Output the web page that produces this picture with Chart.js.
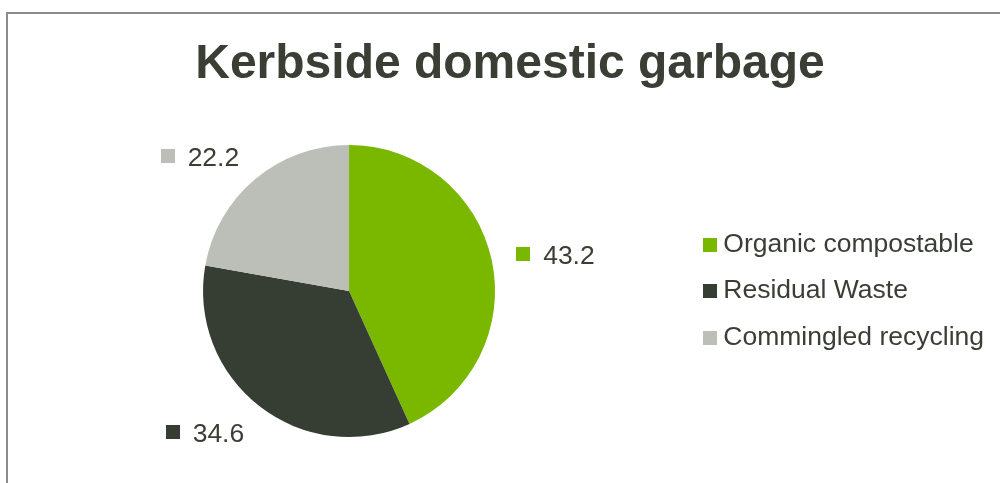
<!DOCTYPE html>
<html>
<head>
<meta charset="utf-8">
<script src="https://cdn.jsdelivr.net/npm/chart.js@4/dist/chart.umd.min.js"></script>
<style>
  html, body { margin: 0; padding: 0; background: #ffffff; overflow: hidden; }
  #wrap { position: relative; width: 1000px; height: 483px; }
  #frame {
    position: absolute; left: 6px; top: 12px; width: 1200px; height: 600px;
    border-top: 2px solid #8c8c8c; border-left: 2px solid #8c8c8c;
    pointer-events: none;
  }
  canvas { position: absolute; left: 0; top: 0; }
</style>
</head>
<body>
<div id="wrap">
  <canvas id="chart" width="1000" height="483"></canvas>
  <div id="frame"></div>
</div>
<script>
// Share of kerbside domestic garbage by stream (%)
const chartTitle = 'Kerbside domestic garbage';
const categories = ['Organic compostable', 'Residual Waste', 'Commingled recycling'];
const shares = [43.2, 34.6, 22.2];
const sliceColors = ['#7ab800', '#363d32', '#bbbfb8'];

const TEXT_COLOR = '#3a3f35';
const FONT_FAMILY = '"Liberation Sans", Arial, Helvetica, sans-serif';
const LABEL_SIZE = 26.5;
const SWATCH = 14;

// Small filled square used as the legend marker
function swatch(color) {
  const c = document.createElement('canvas');
  c.width = SWATCH;
  c.height = SWATCH;
  const g = c.getContext('2d');
  g.fillStyle = color;
  g.fillRect(0, 0, SWATCH, SWATCH);
  return c;
}
const swatches = sliceColors.map(swatch);

// Title drawn across the whole frame, above the plot
const titlePlugin = {
  id: 'frameTitle',
  afterDraw(chart) {
    const ctx = chart.ctx;
    ctx.save();
    ctx.font = 'bold 48px ' + FONT_FAMILY;
    ctx.fillStyle = TEXT_COLOR;
    ctx.textAlign = 'center';
    ctx.textBaseline = 'alphabetic';
    ctx.fillText(chartTitle, 510, 78);
    ctx.restore();
  }
};

// Value labels with a colour key square, placed outside each slice
const valueLabels = {
  id: 'valueLabels',
  afterDatasetsDraw(chart) {
    const ctx = chart.ctx;
    const meta = chart.getDatasetMeta(0);
    const values = chart.data.datasets[0].data;
    ctx.save();
    ctx.font = LABEL_SIZE + 'px ' + FONT_FAMILY;
    ctx.textBaseline = 'alphabetic';
    ctx.textAlign = 'left';
    meta.data.forEach((arc, i) => {
      const p = arc.getProps(['x', 'y', 'startAngle', 'endAngle', 'outerRadius'], true);
      const mid = (p.startAngle + p.endAngle) / 2;
      const cos = Math.cos(mid), sin = Math.sin(mid);
      const dist = p.outerRadius + 25;
      const px = p.x + cos * dist;
      const py = p.y + sin * dist;
      const text = values[i].toFixed(1);
      const w = SWATCH + 13 + ctx.measureText(text).width;
      const left = cos >= 0 ? px : px - w;
      const cy = py + sin * LABEL_SIZE / 4 + 1;
      ctx.fillStyle = sliceColors[i];
      ctx.fillRect(Math.round(left), Math.round(cy - SWATCH / 2), SWATCH, SWATCH);
      ctx.fillStyle = TEXT_COLOR;
      ctx.fillText(text, left + SWATCH + 13, cy + LABEL_SIZE * 0.36 + 0.5);
    });
    ctx.restore();
  }
};

new Chart(document.getElementById('chart'), {
  type: 'pie',
  data: {
    labels: categories,
    datasets: [{
      data: shares,
      backgroundColor: sliceColors,
      borderWidth: 0
    }]
  },
  options: {
    responsive: false,
    animation: false,
    layout: { padding: { top: 145, bottom: 46, left: 8, right: 6 } },
    plugins: {
      title: { display: false },
      tooltip: { enabled: false },
      legend: {
        display: true,
        position: 'right',
        align: 'center',
        labels: {
          usePointStyle: true,
          boxWidth: 0.01,
          padding: 20,
          color: TEXT_COLOR,
          font: { family: FONT_FAMILY, size: LABEL_SIZE },
          generateLabels(chart) {
            const items = Chart.overrides.doughnut.plugins.legend.labels.generateLabels(chart);
            items.forEach((it, i) => { it.pointStyle = swatches[i]; });
            return items;
          }
        }
      }
    }
  },
  plugins: [titlePlugin, valueLabels]
});
</script>
</body>
</html>
